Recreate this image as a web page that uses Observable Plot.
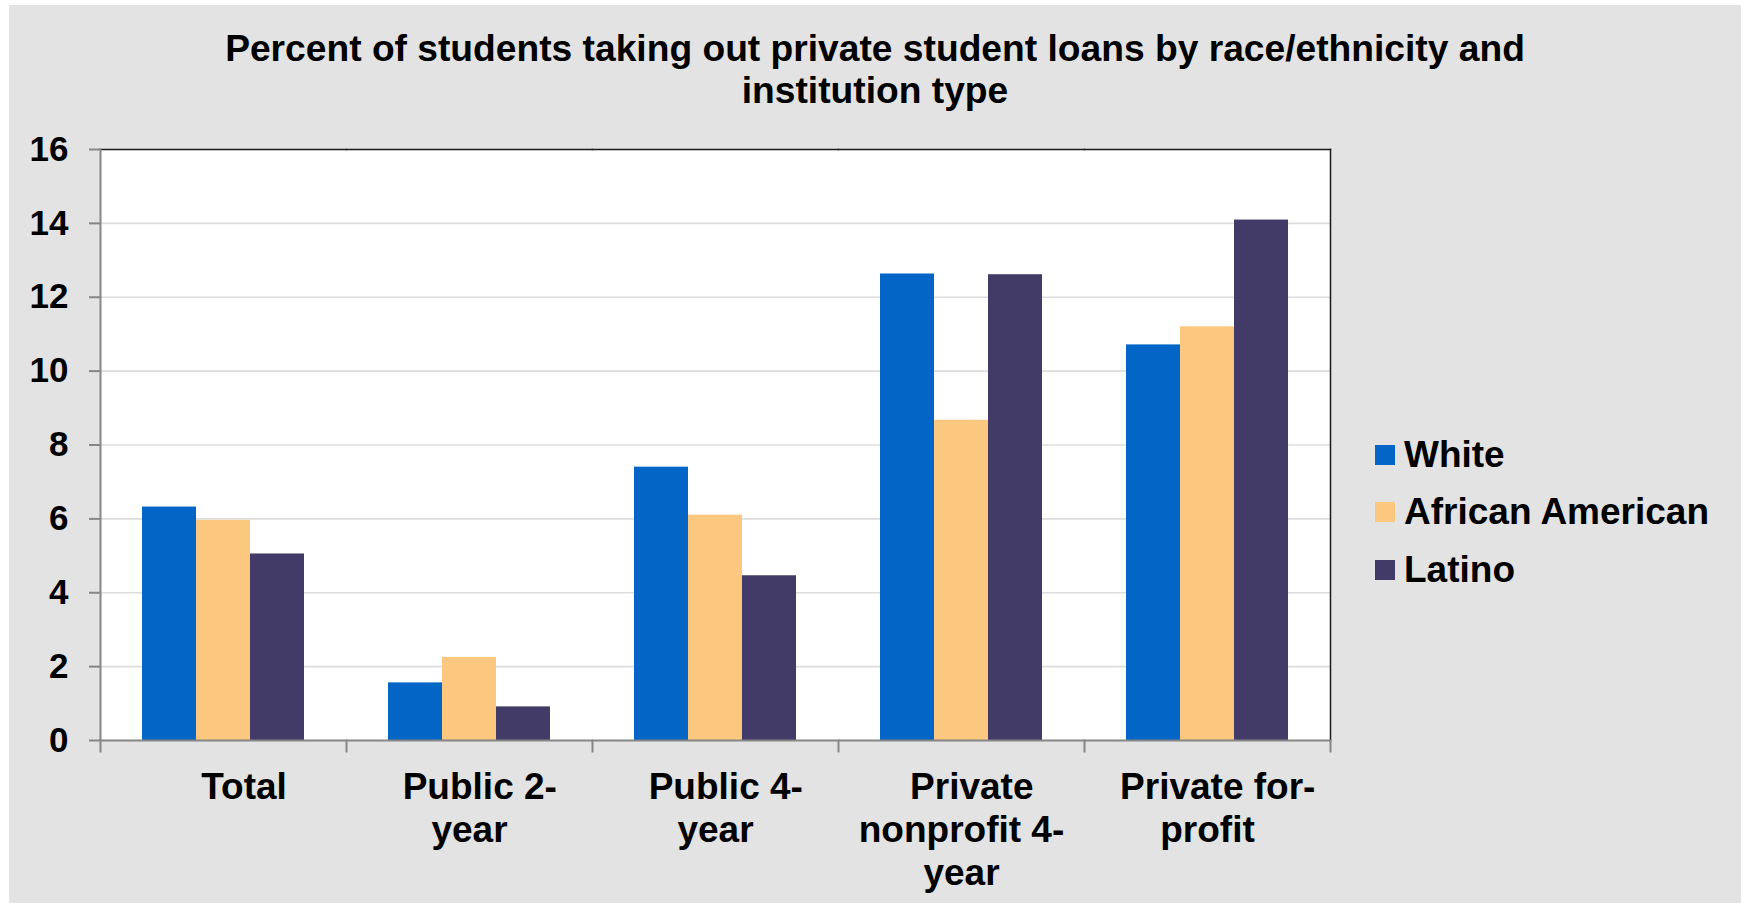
<!DOCTYPE html>
<html>
<head>
<meta charset="utf-8">
<script src="https://cdn.jsdelivr.net/npm/d3@7"></script>
<script src="https://cdn.jsdelivr.net/npm/@observablehq/plot@0.6"></script>
<style>
  html, body { margin: 0; padding: 0; background: #ffffff; }
  body { width: 1741px; height: 903px; position: relative; overflow: hidden;
         font-family: "Liberation Sans", Arial, sans-serif; font-weight: bold; color: #000; }
  #bg { position: absolute; left: 9px; top: 5px; width: 1732px; height: 898px; background: #e3e3e3; }
  #title { position: absolute; left: 9px; width: 1732px; top: 27px; text-align: center;
           font-size: 37.2px; line-height: 42px; }
  #chart { position: absolute; left: 0; top: 0; }
  #legend { position: absolute; left: 1375px; top: 426px; }
  .row { display: flex; align-items: center; height: 57.5px; font-size: 37px; white-space: nowrap; }
  .sw { width: 20px; height: 20px; margin-right: 9px; flex: none; }
</style>
</head>
<body>
<div id="bg"></div>
<div id="title">Percent of students taking out private student loans by race/ethnicity and<br>institution type</div>
<div id="chart"></div>
<div id="legend"></div>
<script>
// ---- data ----
const categories = ["Total", "Public 2-year", "Public 4-year", "Private nonprofit 4-year", "Private for-profit"];
const tickLabels = ["\u00a0\u00a0\u00a0\u00a0Total", "\u00a0\u00a0Public 2-\nyear", "\u00a0\u00a0Public 4-\nyear", "\u00a0\u00a0Private\nnonprofit 4-\nyear", "\u00a0\u00a0Private for-\nprofit"];
const series = ["White", "African American", "Latino"];
const colors = ["#0366c6", "#fcc77f", "#423b67"];
const white = [6.32, 1.56, 7.40, 12.63, 10.71];
const africanAmerican = [5.96, 2.25, 6.10, 8.67, 11.20];
const latino = [5.05, 0.91, 4.46, 12.61, 14.09];
const yTicks = [0, 2, 4, 6, 8, 10, 12, 14, 16];

const seriesValues = [white, africanAmerican, latino];
const rows = [];
categories.forEach((c, i) => series.forEach((s, j) => rows.push({category: c, race: s, value: seriesValues[j][i]})));

const W = 1741, H = 903;
const mL = 100, mR = 411, mT = 149, mB = 163;
const plotH = H - mT - mB;
const axisGray = "#868686";

const chart = Plot.plot({
  width: W,
  height: H,
  marginLeft: mL,
  marginRight: mR,
  marginTop: mT,
  marginBottom: mB,
  style: {background: "transparent", fontFamily: "'Liberation Sans', Arial, sans-serif", fontWeight: "bold", fontSize: "35px", color: "#000", overflow: "visible"},
  fx: {domain: categories, padding: 0, label: null},
  x: {domain: series, paddingInner: 0, paddingOuter: 0.75, axis: null},
  y: {domain: [0, 16], label: null},
  color: {domain: series, range: colors},
  marks: [
    Plot.frame({fill: "white", stroke: "white", strokeWidth: 1}),
    Plot.gridY(yTicks.filter(t => t > 0 && t < 16), {stroke: "#dcdcdc", strokeOpacity: 1, strokeWidth: 1.6}),
    Plot.barY(rows, {fx: "category", x: "race", y: "value", fill: "race"}),
    Plot.frame({anchor: "top", stroke: "#1a1a1a", strokeWidth: 1.5}),
    Plot.frame({anchor: "right", stroke: "#1a1a1a", strokeWidth: 1.5, facetAnchor: "right"}),
    Plot.frame({anchor: "left", stroke: axisGray, strokeWidth: 2, facetAnchor: "left"}),
    Plot.ruleY([0], {stroke: axisGray, strokeWidth: 2}),
    Plot.frame({anchor: "left", stroke: axisGray, strokeWidth: 2, insetTop: plotH, insetBottom: -11}),
    Plot.frame({anchor: "right", stroke: axisGray, strokeWidth: 2, insetTop: plotH, insetBottom: -11, facetAnchor: "right"}),
    Plot.axisY({ticks: yTicks, tickSize: 11, tickPadding: 21, stroke: axisGray, strokeWidth: 2, fontSize: 35, fontWeight: "bold", label: null}),
    Plot.axisFx({anchor: "bottom", tickSize: 0, tickPadding: 28, dx: 0, fontSize: 37, fontWeight: "bold", lineHeight: 1.16,
                 tickFormat: d => tickLabels[categories.indexOf(d)], label: null})
  ]
});
document.getElementById("chart").appendChild(chart);

const legend = document.getElementById("legend");
series.forEach((s, i) => {
  const row = document.createElement("div");
  row.className = "row";
  const sw = document.createElement("div");
  sw.className = "sw";
  sw.style.background = colors[i];
  const t = document.createElement("span");
  t.textContent = s;
  row.appendChild(sw);
  row.appendChild(t);
  legend.appendChild(row);
});
</script>
</body>
</html>
